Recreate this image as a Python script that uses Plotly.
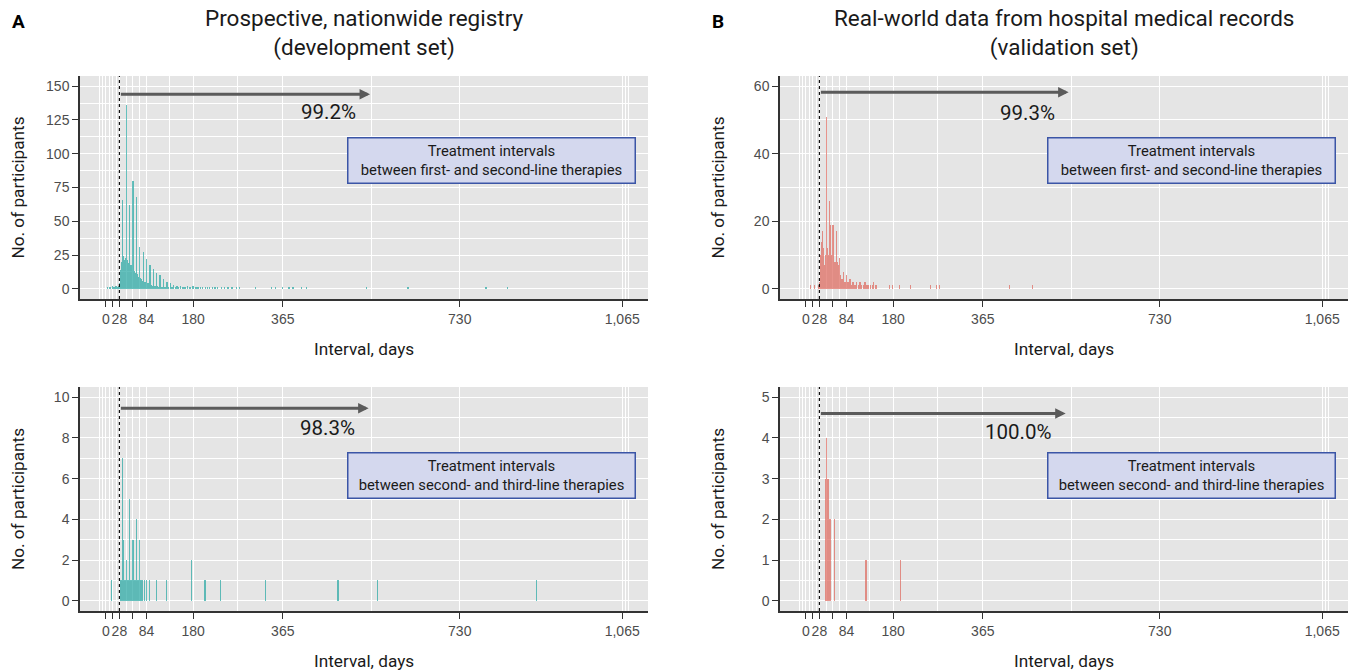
import plotly.graph_objects as go

# ---------------- data ----------------
# A, top: development set, first- to second-line interval (days -> participants)
dev12_days = [3, 7, 10, 14, 17, 20, 21, 23, 25, 26, 27,
              28, 29, 30, 31, 32, 33, 34, 35, 36, 37, 38, 39, 40, 41, 42, 43, 44, 45, 46, 47,
              48, 49, 50, 51, 52, 53, 54, 55, 56, 57, 58, 59, 60, 61, 62, 63, 64, 65, 66, 67,
              68, 69, 70, 71, 72, 73, 74, 75, 76, 77, 78, 79, 80, 81, 82, 83, 84, 85, 86, 87,
              88, 89, 90, 91, 92, 93, 94, 95, 96, 97, 98, 99, 100, 101, 102, 103, 104, 105, 106, 107,
              108, 109, 110, 111, 112, 113, 114, 115, 116, 117, 118, 119, 120, 121, 122, 123, 124, 125, 126, 127,
              128, 130, 133, 135, 137, 140, 143, 147, 150, 154, 158, 161, 165, 168, 172, 175, 180, 186, 190, 196,
              200, 205, 210, 214, 220, 225, 231, 238, 245, 252, 260, 270, 276, 308, 342, 350, 364, 378, 386, 404,
              414, 538, 623, 784, 829]
dev12_counts = [1, 1, 1, 2, 1, 1, 2, 1, 1, 1, 2,
                3, 4, 10, 14, 16, 20, 18, 66, 22, 24, 19, 21, 17, 23, 136, 20, 18, 21, 16, 15,
                19, 62, 17, 15, 18, 14, 13, 16, 80, 14, 12, 13, 11, 10, 12, 68, 10, 9, 11, 8,
                9, 8, 31, 7, 8, 6, 7, 6, 5, 27, 6, 5, 4, 5, 4, 4, 22, 4, 3, 4,
                3, 3, 3, 18, 3, 2, 3, 2, 2, 2, 15, 2, 2, 1, 2, 1, 2, 12, 1, 2,
                1, 1, 1, 2, 10, 1, 1, 1, 1, 1, 1, 7, 1, 1, 1, 1, 1, 1, 5, 1,
                1, 1, 4, 1, 1, 3, 1, 2, 1, 2, 1, 1, 1, 2, 1, 1, 2, 1, 1, 1,
                1, 1, 1, 1, 1, 1, 1, 1, 1, 1, 1, 1, 1, 1, 1, 1, 1, 1, 1, 1,
                1, 1, 1, 1, 1]

# B, top: validation set, first- to second-line interval
val12_days = [10, 18, 27,
              29, 30, 31, 32, 33, 34, 35, 36, 37, 38, 39, 40, 41, 42, 43, 44, 45, 46, 47, 48,
              49, 50, 51, 52, 53, 54, 55, 56, 57, 58, 59, 60, 61, 62, 63, 64, 65, 66, 67, 68,
              69, 70, 71, 72, 73, 74, 75, 76, 77, 78, 79, 80, 81, 82, 84, 85, 86, 88, 90, 91,
              92, 94, 96, 98, 100, 103, 105, 108, 112, 115, 119, 122, 126, 128, 133, 137, 140, 145,
              172, 179, 193, 216, 257, 270, 276, 420, 467]
val12_counts = [1, 1, 1,
                2, 6, 10, 14, 14, 8, 17, 12, 9, 7, 6, 10, 8, 51, 9, 12, 8, 6, 7, 10,
                26, 19, 8, 6, 7, 10, 8, 19, 6, 5, 7, 8, 6, 5, 17, 6, 8, 5, 7, 4,
                6, 9, 3, 4, 2, 3, 2, 3, 5, 2, 1, 2, 2, 1, 4, 2, 1, 2, 1, 3,
                1, 1, 2, 2, 1, 1, 2, 1, 2, 1, 1, 2, 1, 1, 1, 1, 2, 1,
                1, 1, 1, 1, 1, 1, 1, 1, 1]

# A, bottom: development set, second- to third-line interval
dev23_days = [12, 30, 31, 32, 33, 34, 35, 36, 37, 38, 39, 40, 41, 42, 43, 44, 45, 46, 47, 48,
              49, 50, 52, 54, 56, 57, 59, 60, 61, 63, 64, 66, 68, 70, 71, 73, 75, 80, 84, 90,
              104, 125, 176, 203, 205, 236, 329, 479, 560, 888]
dev23_counts = [1, 1, 1, 1, 1, 1, 7, 3, 3, 1, 1, 1, 1, 2, 1, 1, 1, 1, 1, 1,
                5, 1, 1, 1, 3, 1, 1, 1, 1, 4, 1, 1, 1, 3, 1, 1, 1, 1, 1, 1,
                1, 1, 2, 1, 1, 1, 1, 1, 1, 1]

# B, bottom: validation set, second- to third-line interval
val23_days = [40, 41, 42, 44, 46, 48, 50, 59, 124, 195]
val23_counts = [3, 2, 4, 2, 3, 1, 2, 2, 1, 1]

# axis tick values / labels
x_tickvals = [0, 14, 28, 56, 84, 180, 365, 730, 1065]
x_ticktext = ["0", "", "28", "", "84", "180", "365", "730", "1,065"]
x_minor = [-14, -7, 7, 21, 42, 70, 132, 272.5, 547.5, 1072, 1079]
cutoff_day = 28

pct_labels = ["99.2%", "99.3%", "98.3%", "100.0%"]
box_labels = ["Treatment intervals<br>between first- and second-line therapies",
              "Treatment intervals<br>between first- and second-line therapies",
              "Treatment intervals<br>between second- and third-line therapies",
              "Treatment intervals<br>between second- and third-line therapies"]
titles = ["Prospective, nationwide registry<br>(development set)",
          "Real-world data from hospital medical records<br>(validation set)"]

# ---------------- styling ----------------
TEAL = "#2aa9a5"
RED = "#df6a60"
TXT = "Roboto, 'Noto Sans', sans-serif"
TICKF = "'Liberation Sans', Arial, sans-serif"

W, H = 1350, 670
panels = [
    dict(px=(80, 648, 76, 299), yr=(-7.5, 157.5), dt=25, mn=12.5, days=dev12_days, cnt=dev12_counts, col=TEAL,
         arrow_y=144, arrow_end=545, pct=(0.438, 0.838)),
    dict(px=(780, 1348, 76, 299), yr=(-3, 63), dt=20, mn=10, days=val12_days, cnt=val12_counts, col=RED,
         arrow_y=58.2, arrow_end=542, pct=(0.435, 0.836)),
    dict(px=(80, 648, 387, 611), yr=(-0.5, 10.5), dt=2, mn=1, days=dev23_days, cnt=dev23_counts, col=TEAL,
         arrow_y=9.46, arrow_end=542, pct=(0.436, 0.818)),
    dict(px=(780, 1348, 387, 611), yr=(-0.25, 5.25), dt=1, mn=0.5, days=val23_days, cnt=val23_counts, col=RED,
         arrow_y=4.6, arrow_end=536, pct=(0.42, 0.80)),
]

fig = go.Figure()
layout = dict(width=W, height=H, margin=dict(l=0, r=0, t=0, b=0, autoexpand=False),
              paper_bgcolor="white", plot_bgcolor="#e5e5e5",
              showlegend=False, bargap=0, barmode="overlay", hovermode=False)
annotations = []
shapes = []

for i, p in enumerate(panels):
    k = "" if i == 0 else str(i + 1)
    x0, x1, yt, yb = p["px"]
    xd = [x0 / W, x1 / W]
    yd = [1 - yb / H, 1 - yt / H]
    fig.add_trace(go.Bar(x=p["days"], y=p["cnt"], width=0.6, opacity=0.72,
                         marker=dict(color=p["col"], line=dict(width=0)),
                         xaxis="x" + k, yaxis="y" + k))
    layout["xaxis" + k] = dict(
        domain=xd, anchor="y" + k, range=[-53.25, 1118.25], automargin=False,
        tickmode="array", tickvals=x_tickvals, ticktext=x_ticktext, tickangle=0,
        ticks="outside", ticklen=6, tickwidth=1.2, tickcolor="#333333",
        showline=True, linecolor="#333333", linewidth=1.5,
        showgrid=True, gridcolor="white", gridwidth=1.2, zeroline=False,
        tickfont=dict(family=TICKF, size=14, color="#4d4d4d"),
        minor=dict(tickmode="array", tickvals=x_minor, showgrid=True, gridcolor="white", gridwidth=0.6, ticks=""),
    )
    layout["yaxis" + k] = dict(
        domain=yd, anchor="x" + k, range=list(p["yr"]), automargin=False,
        tickmode="linear", tick0=0, dtick=p["dt"], tickangle=0,
        ticks="outside", ticklen=6, tickwidth=1.2, tickcolor="#333333",
        showline=True, linecolor="#333333", linewidth=1.5,
        showgrid=True, gridcolor="white", gridwidth=1.2, zeroline=False,
        tickfont=dict(family=TICKF, size=14, color="#4d4d4d"),
        minor=dict(dtick=p["mn"], tick0=0, showgrid=True, gridcolor="white", gridwidth=0.6, ticks=""),
    )
    xr = "x" + k
    yr = "y" + k
    shapes.append(dict(type="line", xref=xr, yref=yr + " domain", x0=cutoff_day, x1=cutoff_day, y0=0, y1=1,
                       line=dict(color="black", width=1.1, dash="dot")))
    annotations.append(dict(xref=xr, yref=yr, axref=xr, ayref=yr, x=p["arrow_end"], y=p["arrow_y"],
                            ax=cutoff_day, ay=p["arrow_y"], text="", showarrow=True,
                            arrowhead=2, arrowsize=0.7, arrowwidth=3, arrowcolor="#5b5b5b"))
    annotations.append(dict(xref=xr + " domain", yref=yr + " domain", x=p["pct"][0], y=p["pct"][1],
                            text=pct_labels[i], showarrow=False, xanchor="center", yanchor="middle",
                            font=dict(family=TXT, size=20.5, color="#1a1a1a")))
    annotations.append(dict(xref=xr + " domain", yref=yr + " domain", x=0.7236,
                            y=0.623 if i < 2 else 0.607,
                            text=box_labels[i], showarrow=False, xanchor="center", yanchor="middle",
                            width=282, height=40, borderpad=2, borderwidth=1.5,
                            bordercolor="#3b55a6", bgcolor="#d4d8ee",
                            font=dict(family=TXT, size=14.8, color="#1a1a1a")))
    annotations.append(dict(xref="paper", yref="paper", x=(x0 + x1) / 2 / W, y=1 - (yb + 50) / H,
                            text="Interval, days", showarrow=False, xanchor="center", yanchor="middle",
                            font=dict(family=TXT, size=17.2, color="#1a1a1a")))
    annotations.append(dict(xref="paper", yref="paper", x=(x0 - 62) / W, y=1 - (yt + yb) / 2 / H,
                            text="No. of participants", showarrow=False, textangle=-90,
                            xanchor="center", yanchor="middle",
                            font=dict(family=TXT, size=17.2, color="#1a1a1a")))

for j, (cx, letter_x) in enumerate([(364, 18), (1064, 718)]):
    annotations.append(dict(xref="paper", yref="paper", x=cx / W, y=1 - 33 / H, text=titles[j],
                            showarrow=False, xanchor="center", yanchor="middle",
                            font=dict(family=TXT, size=22.5, color="#1a1a1a")))
    annotations.append(dict(xref="paper", yref="paper", x=letter_x / W, y=1 - 21 / H,
                            text="<b>" + "AB"[j] + "</b>", showarrow=False, xanchor="center", yanchor="middle",
                            font=dict(family=TXT, size=19, color="black")))

layout["annotations"] = annotations
layout["shapes"] = shapes
fig.update_layout(**layout)
fig.write_html("out.html", config={"displayModeBar": False},
               post_script="document.body.style.margin='0';document.body.style.overflow='hidden';")
